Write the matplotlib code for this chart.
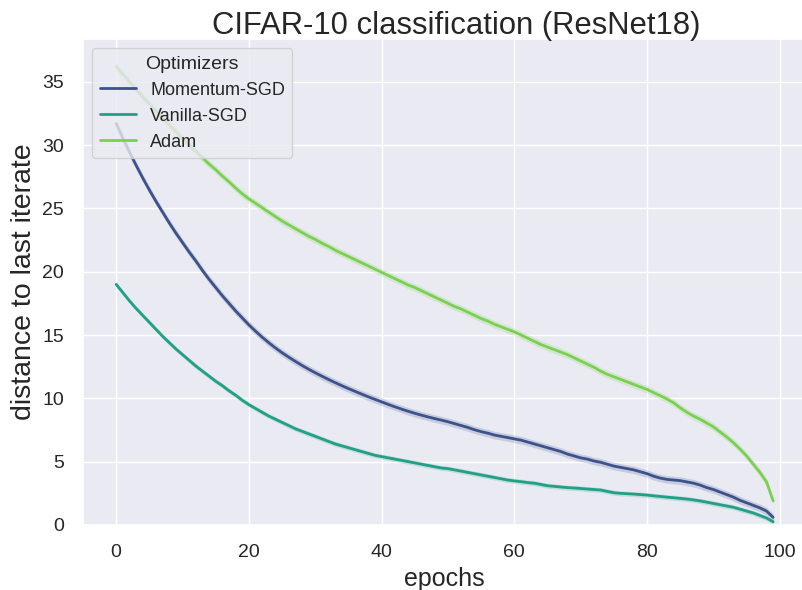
import numpy as np
import matplotlib
matplotlib.use("Agg")
import matplotlib.pyplot as plt
import seaborn as sns

# ---------------- data ----------------
epochs = list(range(100))

momentum_sgd = [
    31.7, 30.55, 29.45, 28.4, 27.4, 26.45, 25.55, 24.7, 23.85, 23.05,
    22.3, 21.55, 20.85, 20.1, 19.4, 18.75, 18.1, 17.5, 16.9, 16.35,
    15.8, 15.3, 14.83, 14.39, 13.98, 13.6, 13.25, 12.92, 12.6, 12.3,
    12.02, 11.75, 11.49, 11.24, 11.0, 10.77, 10.55, 10.33, 10.12, 9.92,
    9.72, 9.52, 9.33, 9.15, 8.98, 8.82, 8.67, 8.53, 8.4, 8.28,
    8.15, 8.0, 7.85, 7.7, 7.52, 7.37, 7.25, 7.1, 7.0, 6.9,
    6.8, 6.7, 6.55, 6.4, 6.25, 6.1, 5.95, 5.8, 5.6, 5.45,
    5.3, 5.2, 5.05, 4.95, 4.8, 4.65, 4.55, 4.45, 4.35, 4.2,
    4.05, 3.85, 3.7, 3.6, 3.55, 3.5, 3.4, 3.3, 3.15, 2.95,
    2.8, 2.6, 2.4, 2.2, 1.95, 1.75, 1.55, 1.35, 1.1, 0.6,
]

vanilla_sgd = [
    19.0, 18.35, 17.7, 17.1, 16.55, 16.0, 15.45, 14.9, 14.4, 13.9,
    13.45, 13.0, 12.55, 12.15, 11.75, 11.35, 11.0, 10.6, 10.25, 9.85,
    9.5, 9.2, 8.9, 8.6, 8.35, 8.1, 7.85, 7.6, 7.4, 7.2,
    7.0, 6.8, 6.6, 6.4, 6.25, 6.1, 5.95, 5.8, 5.65, 5.5,
    5.4, 5.3, 5.2, 5.1, 5.0, 4.9, 4.8, 4.7, 4.6, 4.5,
    4.45, 4.35, 4.25, 4.15, 4.05, 3.95, 3.85, 3.75, 3.65, 3.55,
    3.48, 3.42, 3.35, 3.3, 3.2, 3.1, 3.05, 3.0, 2.95, 2.92,
    2.88, 2.84, 2.8, 2.76, 2.65, 2.55, 2.5, 2.47, 2.44, 2.4,
    2.36, 2.3, 2.25, 2.2, 2.15, 2.1, 2.05, 1.98, 1.9, 1.8,
    1.7, 1.6, 1.5, 1.4, 1.25, 1.1, 0.95, 0.75, 0.55, 0.25,
]

adam = [
    36.2, 35.6, 35.0, 34.4, 33.8, 33.25, 32.7, 32.15, 31.6, 31.05,
    30.5, 30.0, 29.5, 29.0, 28.5, 28.05, 27.55, 27.1, 26.6, 26.15,
    25.75, 25.4, 25.05, 24.7, 24.35, 24.0, 23.7, 23.4, 23.1, 22.8,
    22.55, 22.25, 22.0, 21.7, 21.45, 21.2, 20.95, 20.7, 20.45, 20.2,
    19.95, 19.7, 19.45, 19.2, 18.95, 18.75, 18.5, 18.25, 18.0, 17.75,
    17.5, 17.25, 17.05, 16.8, 16.55, 16.3, 16.1, 15.85, 15.65, 15.45,
    15.25, 15.0, 14.75, 14.5, 14.25, 14.05, 13.85, 13.65, 13.45, 13.2,
    12.95, 12.7, 12.45, 12.15, 11.9, 11.7, 11.5, 11.3, 11.1, 10.9,
    10.7, 10.45, 10.2, 9.95, 9.65, 9.25, 8.9, 8.6, 8.35, 8.05,
    7.75, 7.35, 6.95, 6.5, 6.0, 5.45, 4.8, 4.15, 3.4, 1.9,
]

series_names = ["Momentum-SGD", "Vanilla-SGD", "Adam"]
series_values = [momentum_sgd, vanilla_sgd, adam]
ci_half_width = [0.3, 0.2, 0.3]

x_ticks = [0, 20, 40, 60, 80, 100]
y_ticks = [0, 5, 10, 15, 20, 25, 30, 35]

# ---------------- style ----------------
sns.set_theme(style="darkgrid")
plt.rcParams["font.family"] = ["Liberation Sans", "DejaVu Sans"]

colors = ["#3b528b", "#21a086", "#7ad151"]

fig = plt.figure(figsize=(8.02, 5.90), dpi=100)
ax = fig.add_axes([0.1039, 0.1102, 0.9011, 0.8232])

x = np.array(epochs)
for name, vals, hw, c in zip(series_names, series_values, ci_half_width, colors):
    v = np.array(vals)
    ax.fill_between(x, v - hw, v + hw, color=c, alpha=0.2, linewidth=0)
    ax.plot(x, v, color=c, lw=2.0, label=name)

ax.set_xlim(-4.95, 103.95)
ax.set_ylim(0, 38.35)
ax.set_xticks(x_ticks)
ax.set_yticks(y_ticks)
ax.tick_params(axis="both", labelsize=14, pad=8)

ax.set_title("CIFAR-10 classification (ResNet18)", fontsize=22.3, pad=3.5, x=0.516)
ax.set_xlabel("epochs", fontsize=18)
ax.set_ylabel("distance to last iterate", fontsize=20.5)

leg = ax.legend(title="Optimizers", loc="upper left", fontsize=13,
                title_fontsize=14)

fig.savefig("out.png", dpi=100)
